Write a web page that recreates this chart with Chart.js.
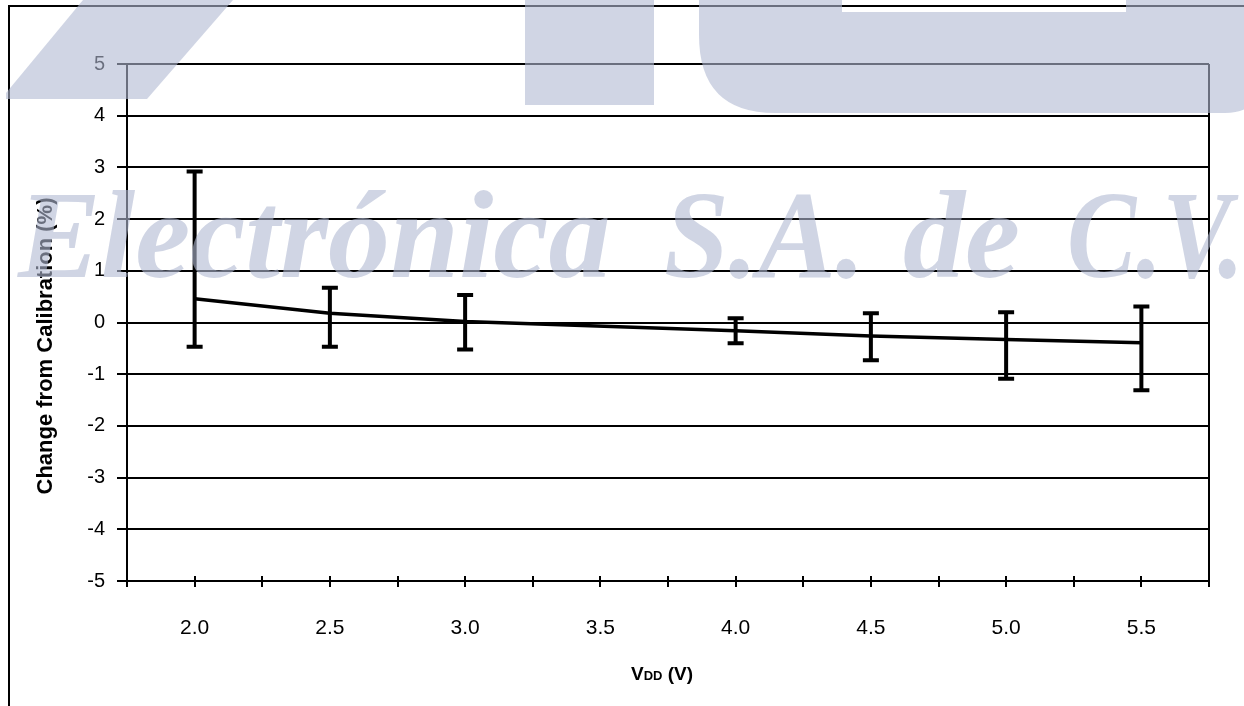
<!DOCTYPE html>
<html>
<head>
<meta charset="utf-8">
<script src="https://cdn.jsdelivr.net/npm/chart.js@4.4.1/dist/chart.umd.min.js"></script>
<style>
  body { margin: 0; background: #fff; }
  canvas { display: block; }
</style>
</head>
<body>
<canvas id="myChart" width="1244" height="706"></canvas>
<script>
// measured points (VDD in volts, change in %)
const vddValues = [2.0, 2.5, 3.0, 4.0, 4.5, 5.0, 5.5];
const meanChange = [0.46, 0.18, 0.02, -0.16, -0.26, -0.33, -0.39];
const errorHigh = [2.92, 0.67, 0.53, 0.08, 0.18, 0.20, 0.31];
const errorLow = [-0.47, -0.47, -0.52, -0.40, -0.73, -1.09, -1.31];

const xLabelValues = [2.0, 2.5, 3.0, 3.5, 4.0, 4.5, 5.0, 5.5];
const yTitle = 'Change from Calibration (%)';
const watermarkWords = ['Electrónica', 'S.A.', 'de', 'C.V.'];

Chart.defaults.font.family = "'Liberation Sans', Arial, sans-serif";
Chart.defaults.color = '#000';


const errorBarPlugin = {
    id: 'errorBars',
    afterDatasetsDraw(chart) {
        const ctx = chart.ctx;
        const xScale = chart.scales.x;
        const yScale = chart.scales.y;

        ctx.save();
        ctx.strokeStyle = '#000';
        ctx.lineWidth = 4;
        vddValues.forEach((v, i) => {
            const px = xScale.getPixelForValue(v);
            const top = yScale.getPixelForValue(errorHigh[i]);
            const bottom = yScale.getPixelForValue(errorLow[i]);
            ctx.beginPath();
            ctx.moveTo(px, top);
            ctx.lineTo(px, bottom);
            ctx.moveTo(px - 8, top);
            ctx.lineTo(px + 8, top);
            ctx.moveTo(px - 8, bottom);
            ctx.lineTo(px + 8, bottom);
            ctx.stroke();
        });
        ctx.restore();
    }
};


const axisExtrasPlugin = {
    id: 'axisExtras',
    afterDraw(chart) {
        const ctx = chart.ctx;
        const area = chart.chartArea;
        const xScale = chart.scales.x;

        ctx.save();
        ctx.strokeStyle = '#000';
        ctx.lineWidth = 2;

        // right border of the plot
        ctx.beginPath();
        ctx.moveTo(area.right, area.top);
        ctx.lineTo(area.right, area.bottom);
        ctx.stroke();

        // x tick marks crossing the axis
        ctx.beginPath();
        xScale.ticks.forEach(t => {
            const px = Math.round(xScale.getPixelForValue(t.value));
            ctx.moveTo(px, area.bottom - 5);
            ctx.lineTo(px, area.bottom + 6);
        });
        ctx.stroke();

        // outer frame (left + top)
        ctx.beginPath();
        ctx.moveTo(9, chart.height);
        ctx.lineTo(9, 6);
        ctx.lineTo(chart.width, 6);
        ctx.stroke();

        // y title
        ctx.fillStyle = '#000';
        ctx.font = "bold 22px 'Liberation Sans', Arial, sans-serif";
        ctx.textAlign = 'center';
        ctx.textBaseline = 'middle';
        ctx.translate(46, 346);
        ctx.rotate(-Math.PI / 2);
        ctx.fillText(yTitle, 0, 0);
        ctx.setTransform(1, 0, 0, 1, 0, 0);

        // x title "VDD (V)" with small DD
        const big = "bold 19px 'Liberation Sans', Arial, sans-serif";
        const small = "bold 13px 'Liberation Sans', Arial, sans-serif";
        ctx.textAlign = 'left';
        ctx.textBaseline = 'alphabetic';
        ctx.font = big;
        const w1 = ctx.measureText('V').width;
        const w3 = ctx.measureText(' (V)').width;
        ctx.font = small;
        const w2 = ctx.measureText('DD').width;
        const total = w1 + w2 + w3;
        let tx = (area.left + area.right) / 2 - total / 2 - 6;
        const ty = 680;
        ctx.font = big;
        ctx.fillText('V', tx, ty);
        tx += w1;
        ctx.font = small;
        ctx.fillText('DD', tx, ty);
        tx += w2;
        ctx.font = big;
        ctx.fillText(' (V)', tx, ty);
        ctx.restore();
    }
};


const watermarkPlugin = {
    id: 'watermark',
    afterDraw(chart) {
        const ctx = chart.ctx;
        ctx.save();
        ctx.fillStyle = 'rgba(177, 185, 210, 0.6)';

        // logo pieces
        ctx.beginPath();
        ctx.moveTo(83, 0);
        ctx.lineTo(233, 0);
        ctx.lineTo(147, 99);
        ctx.lineTo(6, 99);
        ctx.lineTo(6, 93);
        ctx.closePath();
        ctx.fill();

        ctx.fillRect(525, 0, 129, 105);

        ctx.beginPath();
        ctx.moveTo(699, 0);
        ctx.lineTo(842, 0);
        ctx.lineTo(842, 12);
        ctx.lineTo(1126, 12);
        ctx.lineTo(1126, 0);
        ctx.lineTo(1260, 0);
        ctx.lineTo(1260, 80);
        ctx.quadraticCurveTo(1260, 113, 1225, 113);
        ctx.lineTo(775, 113);
        ctx.quadraticCurveTo(699, 113, 699, 35);
        ctx.closePath();
        ctx.fill();

        // company name
        ctx.font = "italic bold 124px 'Liberation Serif', 'Times New Roman', serif";
        ctx.textBaseline = 'alphabetic';
        const starts = [18, 664, 903, 1067];
        const widths = [612, 201, 124, 177];
        watermarkWords.forEach((word, i) => {
            ctx.fillText(word, starts[i], 277, widths[i]);
        });
        ctx.restore();
    }
};


function renderChart() {
    const ctx = document.getElementById('myChart').getContext('2d');

    new Chart(ctx, {
        type: 'line',
        data: {
            datasets: [{
                label: 'Change',
                data: vddValues.map((v, i) => ({ x: v, y: meanChange[i] })),
                borderColor: '#000',
                borderWidth: 3.5,
                pointRadius: 0,
                tension: 0,
                fill: false,
            }]
        },
        options: {
            responsive: false,
            maintainAspectRatio: false,
            animation: false,
            devicePixelRatio: 1,
            layout: {
                padding: { top: 64, right: 35, bottom: 0, left: 0 }
            },
            plugins: {
                legend: { display: false },
                tooltip: { enabled: false }
            },
            scales: {
                x: {
                    type: 'linear',
                    min: 1.75,
                    max: 5.75,
                    afterFit: (scale) => { scale.height = 125; },
                    grid: { display: false },
                    border: { display: true, color: '#000', width: 2 },
                    ticks: {
                        stepSize: 0.25,
                        autoSkip: false,
                        maxRotation: 0,
                        padding: 27,
                        font: { size: 21 },
                        callback: (value) => xLabelValues.some(v => Math.abs(v - value) < 1e-6) ? value.toFixed(1) : ''
                    }
                },
                y: {
                    min: -5,
                    max: 5,
                    afterFit: (scale) => { scale.width = 127; },
                    grid: {
                        color: '#000',
                        lineWidth: 2,
                        tickLength: 10,
                        tickColor: '#000'
                    },
                    border: { display: true, color: '#000', width: 2 },
                    ticks: {
                        stepSize: 1,
                        padding: 12,
                        font: { size: 20 }
                    }
                }
            }
        },
        plugins: [errorBarPlugin, axisExtrasPlugin, watermarkPlugin]
    });
}

renderChart();
</script>
</body>
</html>
